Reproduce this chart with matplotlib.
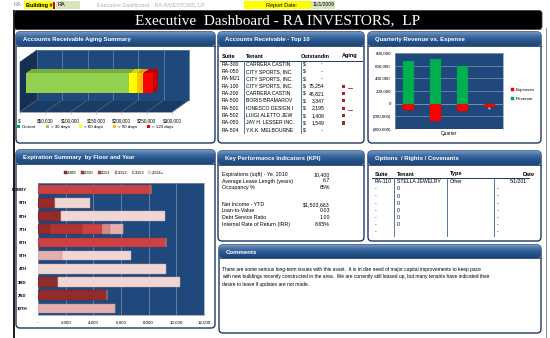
import matplotlib
matplotlib.use('Agg')
import matplotlib.pyplot as plt
from matplotlib.patches import FancyBboxPatch, Rectangle, Polygon
from matplotlib.transforms import offset_copy
from matplotlib.colors import LinearSegmentedColormap
import numpy as np

plt.rcParams['font.family'] = ['Liberation Sans', 'DejaVu Sans']

# ---------------- data ----------------
aging_labels = ['Current', '> 30 days', '> 60 days', '> 90 days', '> 120 days']
aging_values = [0, 204000, 14500, 12000, 21000]
aging_ticks = [0, 50000, 100000, 150000, 200000, 250000, 300000]
aging_ticklabels = ['$-', '$50,000', '$100,000', '$150,000', '$200,000', '$250,000', '$300,000']

top_suites = ['RA-300', 'RA-050', 'RA-M21', 'RA-100', 'RA-200', 'RA-500', 'RA-501', 'RA-502', 'RA-050', 'RA-504']
# tenant names as visible in the (clipped) column
top_tenants = ['CARRERA CASTIN', 'CITY SPORTS, INC.', 'CITY SPORTS, INC.', 'CITY SPORTS, INC.',
               'CARRERA CASTIN', 'BORIS BRAMAROV', 'IONESCO DESIGN I', 'LUIGI ALETTO JEW',
               'JAY H. LESSER INC.', 'Y.K.K. MELBOURNE']
top_outstanding = [0, 0, 0, 75254, 46821, 3347, 2195, 1408, 1549, 0]
top_aging_flag = [0, 0, 0, 1, 0, 0, 1, 0, 0, 0]

quarters = ['1', '2', '3', '4']
revenue = [680000, 700000, 590000, 0]
expenses = [-100000, -270000, -110000, -60000]
rev_ticks = [-400000, -200000, 0, 200000, 400000, 600000, 800000]
rev_ticklabels = ['(400,000)', '(200,000)', '0', '200,000', '400,000', '600,000', '800,000']

floors = ['LOBBY', '9TH', '8TH', '7TH', '6TH', '5TH', '4TH', '3RD', '2ND', '10TH']
years = ['2009', '2010', '2011', '2012', '2013', '2014+']
exp_2009 = [0, 1200, 1680, 870, 0, 0, 0, 1440, 4960, 0]
exp_2010 = [0, 0, 0, 2300, 0, 0, 0, 0, 0, 0]
exp_2011 = [8150, 0, 0, 1440, 9280, 0, 0, 0, 0, 0]
exp_2012 = [0, 0, 0, 600, 0, 0, 0, 0, 0, 0]
exp_2013 = [0, 0, 0, 960, 0, 1770, 0, 0, 0, 5560]
exp_2014 = [0, 2550, 7470, 0, 0, 4940, 9280, 8800, 0, 0]
exp_ticks = [0, 2000, 4000, 6000, 8000, 10000, 12000]
exp_ticklabels = ['-', '2,000', '4,000', '6,000', '8,000', '10,000', '12,000']

kpi_labels = ['Expirations (sqft) - Ye. 2010', 'Average Lease Length (years)', 'Occupancy %',
              'Net Income - YTD', 'Loan-to-Value', 'Debt Service Ratio', 'Internal Rate of Return (IRR)']
kpi_values = ['10,400', '6.7', '65%', '$1,503,663', '0.03', '1.00', '8.65%']

opt_suites = ['RA-110', '-', '-', '-', '-', '-', '-', '-']
opt_tenants = ['STELLA JEWELRY', '0', '0', '0', '0', '0', '0', '']
opt_types = ['Other', '', '', '', '', '', '', '']
opt_dates = ['5/1/201', '-', '-', '-', '-', '-', '-', '-']

comments = ["There are some serious long-term issues with this asset.  It is in dire need of major capital improvements to keep pace",
            "with new buildings recently constructed in the area.  We are currently still leased up, but many tenants have indicated their",
            "desire to leave if updates are not made."]

# ---------------- figure ----------------
W, H = 550, 338
fig = plt.figure(figsize=(5.5, 3.38), dpi=100)
fig.patch.set_facecolor('white')


def rect(x0, y0, x1, y1):
    return [x0 / W, 1 - y1 / H, (x1 - x0) / W, (y1 - y0) / H]


bg = fig.add_axes([0, 0, 1, 1], zorder=0)
bg.set_xlim(0, W)
bg.set_ylim(H, 0)
bg.axis('off')

NAVY = '#1f3864'
PLOT_BLUE = '#1f497d'
hdr_cmap = LinearSegmentedColormap.from_list('hdr', ['#6d95c4', '#3b6aa0', '#24528a', '#1d4677'])

# spreadsheet top row
bg.text(14, 5, 'RA', fontsize=4, color='#888888', va='center')
bg.add_patch(Rectangle((24, 1), 29, 8, color='#ffff00', lw=0))
bg.text(26, 5, 'Building #', fontsize=4, fontweight='bold', va='center')
bg.add_patch(Rectangle((52.5, 1.5), 2.2, 7, color='#cc0000', lw=0))
bg.add_patch(Rectangle((56, 1), 24, 8, color='#d8e4bc', lw=0))
bg.text(58, 5, 'RA', fontsize=4, va='center')
bg.text(97, 5, 'Executive Dashboard - RA INVESTORS, LP', fontsize=4, color='#b0b0b0', va='center')
bg.add_patch(Rectangle((244, 1), 67, 8, color='#ffff00', lw=0))
bg.text(266, 5, 'Report Date:', fontsize=4, va='center')
bg.add_patch(Rectangle((311, 1), 24, 8, color='#d8e4bc', lw=0))
bg.text(313, 5, '11/1/2009', fontsize=3.6, va='center')

# outer frame + title
bg.add_patch(Rectangle((13, 10), 2.2, 330, color='#202020', lw=0))
bg.add_patch(FancyBboxPatch((14, 10.5), 528, 19, boxstyle='round,pad=0,rounding_size=3',
                            facecolor='black', edgecolor='#404040', lw=0.6))
bg.add_patch(Rectangle((546, 28), 1.2, 310, color='#909090', lw=0))
bg.text(278, 20.5, 'Executive  Dashboard - RA INVESTORS,  LP', fontsize=11, color='white',
        family=['Liberation Serif', 'DejaVu Serif'], ha='center', va='center')


def panel(x0, y0, x1, y1, title, hh=14):
    body = FancyBboxPatch((x0, y0), x1 - x0, y1 - y0, boxstyle='round,pad=0,rounding_size=4',
                          facecolor='white', edgecolor=NAVY, lw=1.0, zorder=1)
    bg.add_patch(body)
    hdr = FancyBboxPatch((x0, y0), x1 - x0, hh, boxstyle='round,pad=0,rounding_size=3',
                         facecolor='none', edgecolor='none', zorder=2)
    bg.add_patch(hdr)
    grad = np.linspace(0, 1, 32).reshape(-1, 1)
    im = bg.imshow(grad, extent=(x0, x1, y0 + hh, y0), aspect='auto', cmap=hdr_cmap, zorder=2)
    im.set_clip_path(hdr)
    bg.text(x0 + 7, y0 + hh / 2 + 0.5, title, fontsize=4.3, fontweight='bold', color='white',
            va='center', zorder=3)
    bg.plot([x0, x1], [y0 + hh, y0 + hh], color=NAVY, lw=0.6, zorder=3)


panel(16, 32, 215, 143, 'Accounts Receivable Aging Summary')
panel(218, 32, 364, 143, 'Accounts Receivable - Top 10')
panel(368, 32, 541, 143, 'Quarterly Revenue vs. Expense')
panel(16, 150, 215, 328, 'Expiration Summary  by Floor and Year')
panel(218, 151, 364, 241, 'Key Performance Indicators (KPI)')
panel(368, 151, 541, 241, 'Options  / Rights / Covenants')
panel(219, 245, 541, 333, 'Comments', hh=13)
bg.set_xlim(0, W)
bg.set_ylim(H, 0)

# ---------------- chart 1: aging (3-D look) ----------------
ax1 = fig.add_axes(rect(20, 62, 172, 112), zorder=2)
ax1.set_facecolor('none')
ax1.set_xlim(0, 300000)
ax1.set_ylim(-0.5, 0.5)
for s in ['left', 'top', 'right']:
    ax1.spines[s].set_visible(False)
ax1.spines['bottom'].set_color('#9a9a9a')
ax1.spines['bottom'].set_linewidth(0.5)
ax1.set_yticks([])
ax1.set_xticks(aging_ticks)
ax1.set_xticklabels(aging_ticklabels)
ax1.tick_params(axis='x', labelsize=3.3, length=1.5, width=0.4, color='#9a9a9a', pad=3)

DX, DY = 17, 12
back = offset_copy(ax1.transData, fig=fig, x=DX, y=DY, units='dots')
ax1.add_patch(Rectangle((0, -0.5), 300000, 1, transform=back, facecolor=PLOT_BLUE,
                        edgecolor='#2b4f7a', lw=0.4, zorder=0, clip_on=False))
ax1.vlines(aging_ticks[1:], -0.5, 0.5, transform=back, color='#7f93ad', lw=0.45, zorder=0.5, clip_on=False)


def to_px(x, y):
    d = ax1.transData.transform((x, y))
    return d[0], H - d[1]


fl, fr = to_px(0, -0.5), to_px(300000, -0.5)
tl = to_px(0, 0.5)
bg.add_patch(Polygon([fl, fr, (fr[0] + DX, fr[1] - DY), (fl[0] + DX, fl[1] - DY)],
                     closed=True, facecolor='#1a3d66', edgecolor='#1a3560', lw=0.4, zorder=4))
bg.add_patch(Polygon([fl, tl, (tl[0] + DX, tl[1] - DY), (fl[0] + DX, fl[1] - DY)],
                     closed=True, facecolor='#162f52', edgecolor='#1a3560', lw=0.4, zorder=4))
for v in aging_ticks:
    p = to_px(v, -0.5)
    bg.plot([p[0], p[0] + DX], [p[1], p[1] - DY], color='#5f7594', lw=0.4, zorder=4.5)

dark = ['#008a3e', '#78ad3e', '#d6d600', '#d9a200', '#c00000']
front_cols = ['#00b050', '#92d050', '#ffff00', '#ffc000', '#ff0000']
for k in np.linspace(5, 0.4, 12):
    tr = offset_copy(ax1.transData, fig=fig, x=6 + k, y=4 + 0.8 * k, units='dots')
    left = 0
    for v, c in zip(aging_values, dark):
        ax1.barh(0, v, left=left, height=0.39, color=c, transform=tr, zorder=2, clip_on=False)
        left += v
tr = offset_copy(ax1.transData, fig=fig, x=6, y=4, units='dots')
handles = []
left = 0
for v, c, lab in zip(aging_values, front_cols, aging_labels):
    b = ax1.barh(0, v, left=left, height=0.39, color=c, transform=tr, zorder=3, clip_on=False, label=lab)
    handles.append(b)
    left += v
ax1.legend(handles=handles, labels=aging_labels, ncol=5, loc='center',
           bbox_to_anchor=(95 / W, 1 - 126.7 / H), bbox_transform=fig.transFigure,
           fontsize=3.2, frameon=False, handlelength=0.7, handleheight=0.7,
           columnspacing=2.2, handletextpad=0.4, borderpad=0)

# ---------------- chart 3: quarterly ----------------
ax3 = fig.add_axes(rect(395, 53, 503, 129), zorder=2)
ax3.set_facecolor(PLOT_BLUE)
xq = np.arange(len(quarters))
eb = ax3.bar(xq, expenses, width=0.4, color='#ff0000', edgecolor='#d00000', lw=0.3, zorder=3, label='Expenses')
rb = ax3.bar(xq, revenue, width=0.4, color='#00b050', edgecolor='#009040', lw=0.3, zorder=3, label='Revenue')
ax3.set_ylim(-400000, 800000)
ax3.set_xlim(-0.5, 3.5)
ax3.set_yticks(rev_ticks)
ax3.set_yticklabels(rev_ticklabels)
ax3.grid(axis='y', color='#8595ab', lw=0.5, zorder=1)
ax3.set_axisbelow(True)
ax3.spines['bottom'].set_position(('data', 0))
for s in ax3.spines.values():
    s.set_color('#8595ab')
    s.set_linewidth(0.5)
ax3.set_xticks(xq)
ax3.set_xticklabels(quarters)
ax3.tick_params(axis='x', length=0, labelsize=3.5, labelcolor='white', pad=1.5)
ax3.tick_params(axis='y', length=0, labelsize=3.2, pad=3)
ax3.text(0.5, -0.03, 'Quarter', transform=ax3.transAxes, ha='center', va='top', fontsize=3.4)
ax3.legend(handles=[eb, rb], ncol=1, loc='center', bbox_to_anchor=(523 / W, 1 - 94.5 / H),
           bbox_transform=fig.transFigure, fontsize=3.2, frameon=False, handlelength=0.7,
           handleheight=0.7, handletextpad=0.4, labelspacing=1.2, borderpad=0)

# ---------------- chart 4: expirations ----------------
ax4 = fig.add_axes(rect(38, 183, 204, 315), zorder=2)
ax4.set_facecolor(PLOT_BLUE)
yc = np.arange(len(floors))
series = [exp_2009, exp_2010, exp_2011, exp_2012, exp_2013, exp_2014]
ycols = ['#922b2b', '#b03434', '#cc4242', '#d48a8a', '#e3afaf', '#f1d6d6']
ecols = ['#6e1e1e', '#862626', '#9c3030', '#a86464', '#b98888', '#c4a4a4']
left = np.zeros(len(floors))
h4 = []
for vals, c, e, lab in zip(series, ycols, ecols, years):
    b = ax4.barh(yc, vals, left=left, height=0.72, color=c, edgecolor=e, lw=0.3, zorder=3, label=lab)
    h4.append(b)
    left += np.array(vals)
ax4.set_xlim(0, 12000)
ax4.set_ylim(len(floors) - 0.5, -0.5)
ax4.set_xticks(exp_ticks)
ax4.set_xticklabels(exp_ticklabels)
ax4.set_yticks(yc)
ax4.set_yticklabels(floors, fontweight='bold')
ax4.grid(axis='x', color='#8595ab', lw=0.5, zorder=1)
ax4.set_axisbelow(True)
for s in ax4.spines.values():
    s.set_color('#8595ab')
    s.set_linewidth(0.5)
ax4.tick_params(axis='x', length=0, labelsize=3.2, pad=4)
ax4.tick_params(axis='y', length=0, labelsize=3.2, pad=8)
ax4.legend(handles=h4, ncol=6, loc='center', bbox_to_anchor=(114 / W, 1 - 172.7 / H),
           bbox_transform=fig.transFigure, fontsize=3.2, frameon=False, handlelength=0.6,
           handleheight=0.6, columnspacing=0.9, handletextpad=0.15, borderpad=0)

# ---------------- AR top 10 table ----------------
TXT = 3.7
hy = 56
bg.text(222, hy, 'Suite', fontsize=4, fontweight='bold', va='center', zorder=5)
bg.text(246, hy, 'Tenant', fontsize=4, fontweight='bold', va='center', zorder=5)
bg.text(300.5, hy, 'Outstandin', fontsize=4, fontweight='bold', va='center', zorder=5)
bg.text(341.5, hy, 'Aging', fontsize=4, fontweight='bold', va='center', zorder=5)
bg.plot([220, 362], [60.7, 60.7], color=NAVY, lw=0.7, zorder=5)
bg.plot([244.3, 244.3], [60.7, 133], color='#3b5f95', lw=0.6, zorder=5)
bg.plot([301, 301], [60.7, 133], color='#3b5f95', lw=0.6, zorder=5)
for i, (s, tn, amt, fl_) in enumerate(zip(top_suites, top_tenants, top_outstanding, top_aging_flag)):
    y = 64 + i * 7.37
    bg.text(222, y, s, fontsize=TXT, va='center', zorder=5)
    bg.text(246, y, tn, fontsize=TXT, va='center', zorder=5)
    bg.text(303, y, '$', fontsize=TXT, va='center', zorder=5)
    bg.text(325 if amt else 323, y, f'{amt:,}' if amt else '-', fontsize=TXT, va='center', ha='right', zorder=5)
    if amt:
        bg.add_patch(Rectangle((341.7, y - 1.6), 3.6, 3.2, color='#a3282d', lw=0, zorder=5))
    if fl_:
        bg.plot([348, 352], [y + 1.5, y + 1.5], color='#cc2020', lw=0.6, zorder=5)

# ---------------- KPI ----------------
kpi_y = [174.3, 181, 187.7, 204.3, 211, 217.7, 224.3]
for lab, val, y in zip(kpi_labels, kpi_values, kpi_y):
    bg.text(222, y, lab, fontsize=3.8, va='center', zorder=5)
    bg.text(330, y, val, fontsize=3.8, va='center', ha='right', zorder=5)

# ---------------- Options ----------------
oy = 174
bg.text(375, oy, 'Suite', fontsize=4, fontweight='bold', va='center', zorder=5)
bg.text(397, oy, 'Tenant', fontsize=4, fontweight='bold', va='center', zorder=5)
bg.text(450, oy, 'Type', fontsize=4, fontweight='bold', va='center', zorder=5)
bg.text(535, oy, 'Date', fontsize=4, fontweight='bold', va='center', ha='right', zorder=5)
bg.plot([372, 529], [178.3, 178.3], color=NAVY, lw=0.7, zorder=5)
for xv in [394.3, 446.7, 494.3]:
    bg.plot([xv, xv], [178.3, 236], color='#3b5f95', lw=0.6, zorder=5)
for i, (s, tn, ty, dt) in enumerate(zip(opt_suites, opt_tenants, opt_types, opt_dates)):
    y = 181.7 + i * 7.2
    bg.text(375, y, s, fontsize=TXT, va='center', zorder=5)
    bg.text(397, y, tn, fontsize=TXT, va='center', zorder=5)
    bg.text(450, y, ty, fontsize=TXT, va='center', zorder=5)
    if dt == '-':
        bg.text(497, y, dt, fontsize=TXT, va='center', zorder=5)
    else:
        bg.text(527, y, dt, fontsize=TXT, va='center', ha='right', zorder=5)

# ---------------- Comments ----------------
for i, line in enumerate(comments):
    bg.text(222, 269.3 + i * 7.4, line, fontsize=3.5, va='center', zorder=5)

fig.savefig('out.png', dpi=100, facecolor='white')
